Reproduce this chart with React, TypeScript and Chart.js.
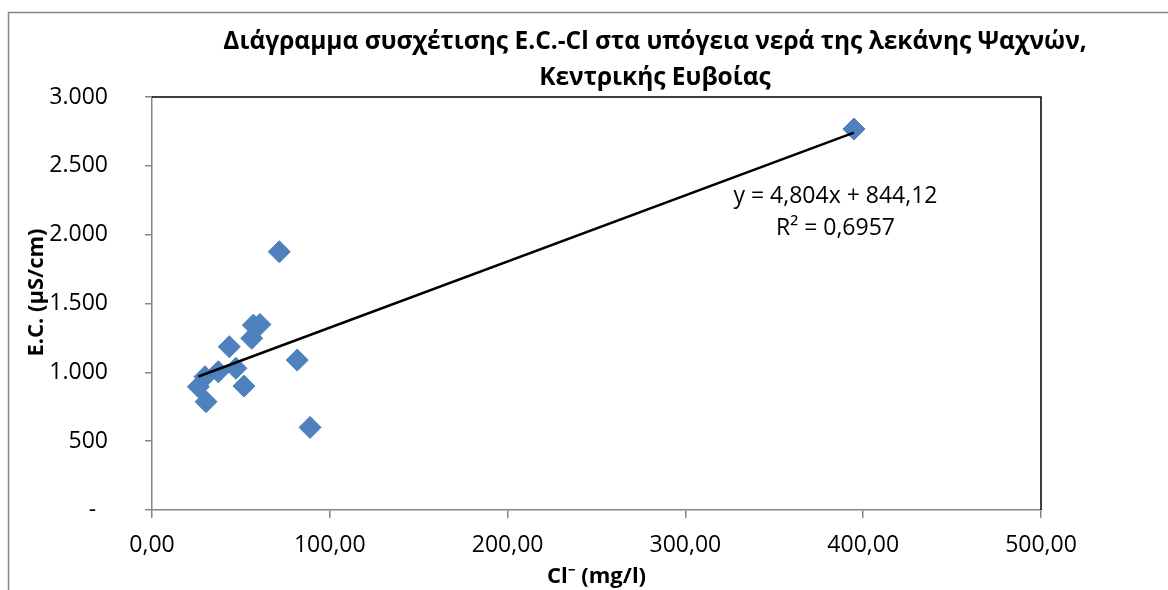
import React, { useEffect, useRef } from 'react';
import { Chart, registerables } from 'chart.js';

Chart.register(...registerables);

// Chloride concentration (mg/l) and electrical conductivity (μS/cm) per sample
const chlorideMgL = [26.1, 29.8, 30.4, 37.3, 43.5, 47.2, 51.7, 56.1, 57.0, 60.7, 71.6, 81.7, 88.9, 394.8];
const conductivityUsCm = [895, 968, 787, 1004, 1186, 1029, 900, 1247, 1343, 1348, 1876, 1089, 600, 2767];

// Linear trend line: E.C. = slope * Cl + intercept
const trendSlope = 4.804;
const trendIntercept = 844.12;
const equationLines = ['y = 4,804x + 844,12', 'R² = 0,6957'];

const titleLines = [
  'Διάγραμμα συσχέτισης E.C.-Cl στα υπόγεια νερά της λεκάνης Ψαχνών,',
  'Κεντρικής Ευβοίας',
];
const xAxisTitle = 'Cl⁻ (mg/l)';
const yAxisTitle = 'E.C. (μS/cm)';

const FONT = "'Open Sans', 'Noto Sans', sans-serif";
const AXIS_GREY = '#868686';

const formatThousands = (v: number) => {
  if (v === 0) return '-\u00A0\u00A0';
  const s = Math.round(v).toString();
  return s.replace(/\B(?=(\d{3})+(?!\d))/g, '.');
};
const formatDecimal = (v: number) => v.toFixed(2).replace('.', ',');

const decorPlugin = {
  id: 'decor',
  beforeDraw(chart: any) {
    const { ctx } = chart;
    ctx.save();
    // outer chart frame (top and left edges are visible)
    ctx.strokeStyle = AXIS_GREY;
    ctx.lineWidth = 1.5;
    ctx.beginPath();
    ctx.moveTo(8.5, chart.height + 2);
    ctx.lineTo(8.5, 12.5);
    ctx.lineTo(chart.width + 2, 12.5);
    ctx.stroke();

    // two-line chart title, centred on the chart frame
    ctx.fillStyle = '#000';
    ctx.font = `bold 24.5px ${FONT}`;
    ctx.textAlign = 'center';
    ctx.textBaseline = 'alphabetic';
    ctx.fillText(titleLines[0], chart.width / 2, 48.5);
    ctx.fillText(titleLines[1], chart.width / 2, 85);

    // vertical axis title
    const { chartArea } = chart;
    ctx.font = `bold 22px ${FONT}`;
    ctx.textBaseline = 'middle';
    ctx.translate(37, (chartArea.top + chartArea.bottom) / 2 - 11);
    ctx.rotate(-Math.PI / 2);
    ctx.fillText(yAxisTitle, 0, 0);
    ctx.restore();
  },
  beforeDatasetsDraw(chart: any) {
    const { ctx, chartArea } = chart;
    ctx.save();
    // plot area border on the top and right edges
    ctx.strokeStyle = '#000';
    ctx.lineWidth = 1.5;
    ctx.beginPath();
    ctx.moveTo(chartArea.left, chartArea.top);
    ctx.lineTo(chartArea.right, chartArea.top);
    ctx.lineTo(chartArea.right, chartArea.bottom);
    ctx.stroke();
    ctx.restore();
  },
  afterDraw(chart: any) {
    const { ctx, scales } = chart;
    ctx.save();
    ctx.fillStyle = '#000';
    ctx.font = `23px ${FONT}`;
    ctx.textAlign = 'center';
    ctx.textBaseline = 'middle';
    const cx = scales.x.getPixelForValue(384.4);
    ctx.fillText(equationLines[0], cx, scales.y.getPixelForValue(2275));
    ctx.fillText(equationLines[1], cx, scales.y.getPixelForValue(2045));
    ctx.restore();
  },
};

export default function App() {
  const canvasRef = useRef<HTMLCanvasElement | null>(null);

  useEffect(() => {
    if (!canvasRef.current) return;
    const points = chlorideMgL.map((x, i) => ({ x, y: conductivityUsCm[i] }));
    const xMin = Math.min(...chlorideMgL);
    const xMax = Math.max(...chlorideMgL);
    const trend = [
      { x: xMin, y: trendSlope * xMin + trendIntercept },
      { x: xMax, y: trendSlope * xMax + trendIntercept },
    ];

    const chart = new Chart(canvasRef.current, {
      type: 'scatter',
      data: {
        datasets: [
          {
            data: trend,
            showLine: true,
            borderColor: '#000',
            borderWidth: 2.5,
            pointRadius: 0,
            order: 0,
          },
          {
            data: points,
            pointStyle: 'rectRot',
            pointRadius: 11,
            backgroundColor: '#4F81BD',
            borderColor: '#4A7EBB',
            borderWidth: 1,
            order: 1,
          },
        ],
      },
      options: {
        animation: false,
        responsive: false,
        events: [],
        layout: { padding: { left: 0, right: 269, top: 97, bottom: 0 } },
        plugins: {
          legend: { display: false },
          tooltip: { enabled: false },
          title: { display: false },
        },
        scales: {
          x: {
            type: 'linear',
            min: 0,
            max: 500,
            afterFit: (s: any) => {
              s.height = 80;
            },
            ticks: {
              stepSize: 100,
              padding: 14,
              color: '#000',
              font: { family: FONT, size: 23 },
              callback: (v: any) => formatDecimal(Number(v)),
            },
            grid: {
              display: true,
              drawOnChartArea: false,
              drawTicks: true,
              tickLength: 8,
              color: AXIS_GREY,
              lineWidth: 1.5,
            },
            border: { display: true, color: AXIS_GREY, width: 1.5 },
            title: {
              display: true,
              text: xAxisTitle,
              color: '#000',
              font: { family: FONT, size: 22, weight: 'bold', lineHeight: 1.2 },
              padding: { top: 0, bottom: 0 },
            },
          },
          y: {
            type: 'linear',
            min: 0,
            max: 3000,
            afterFit: (s: any) => {
              s.width = 152;
            },
            ticks: {
              stepSize: 500,
              padding: 37,
              color: '#000',
              font: { family: FONT, size: 23 },
              callback: (v: any) => formatThousands(Number(v)),
            },
            grid: {
              display: true,
              drawOnChartArea: false,
              drawTicks: true,
              tickLength: 7,
              color: AXIS_GREY,
              lineWidth: 1.5,
            },
            border: { display: true, color: AXIS_GREY, width: 1.5 },
            title: { display: false },
          },
        },
      },
      plugins: [decorPlugin],
    });

    return () => chart.destroy();
  }, []);

  return (
    <div
      style={{
        position: 'fixed',
        left: 0,
        top: 0,
        width: 1168,
        height: 590,
        overflow: 'hidden',
        background: '#fff',
      }}
    >
      <canvas ref={canvasRef} width={1310} height={590} style={{ display: 'block' }} />
    </div>
  );
}
